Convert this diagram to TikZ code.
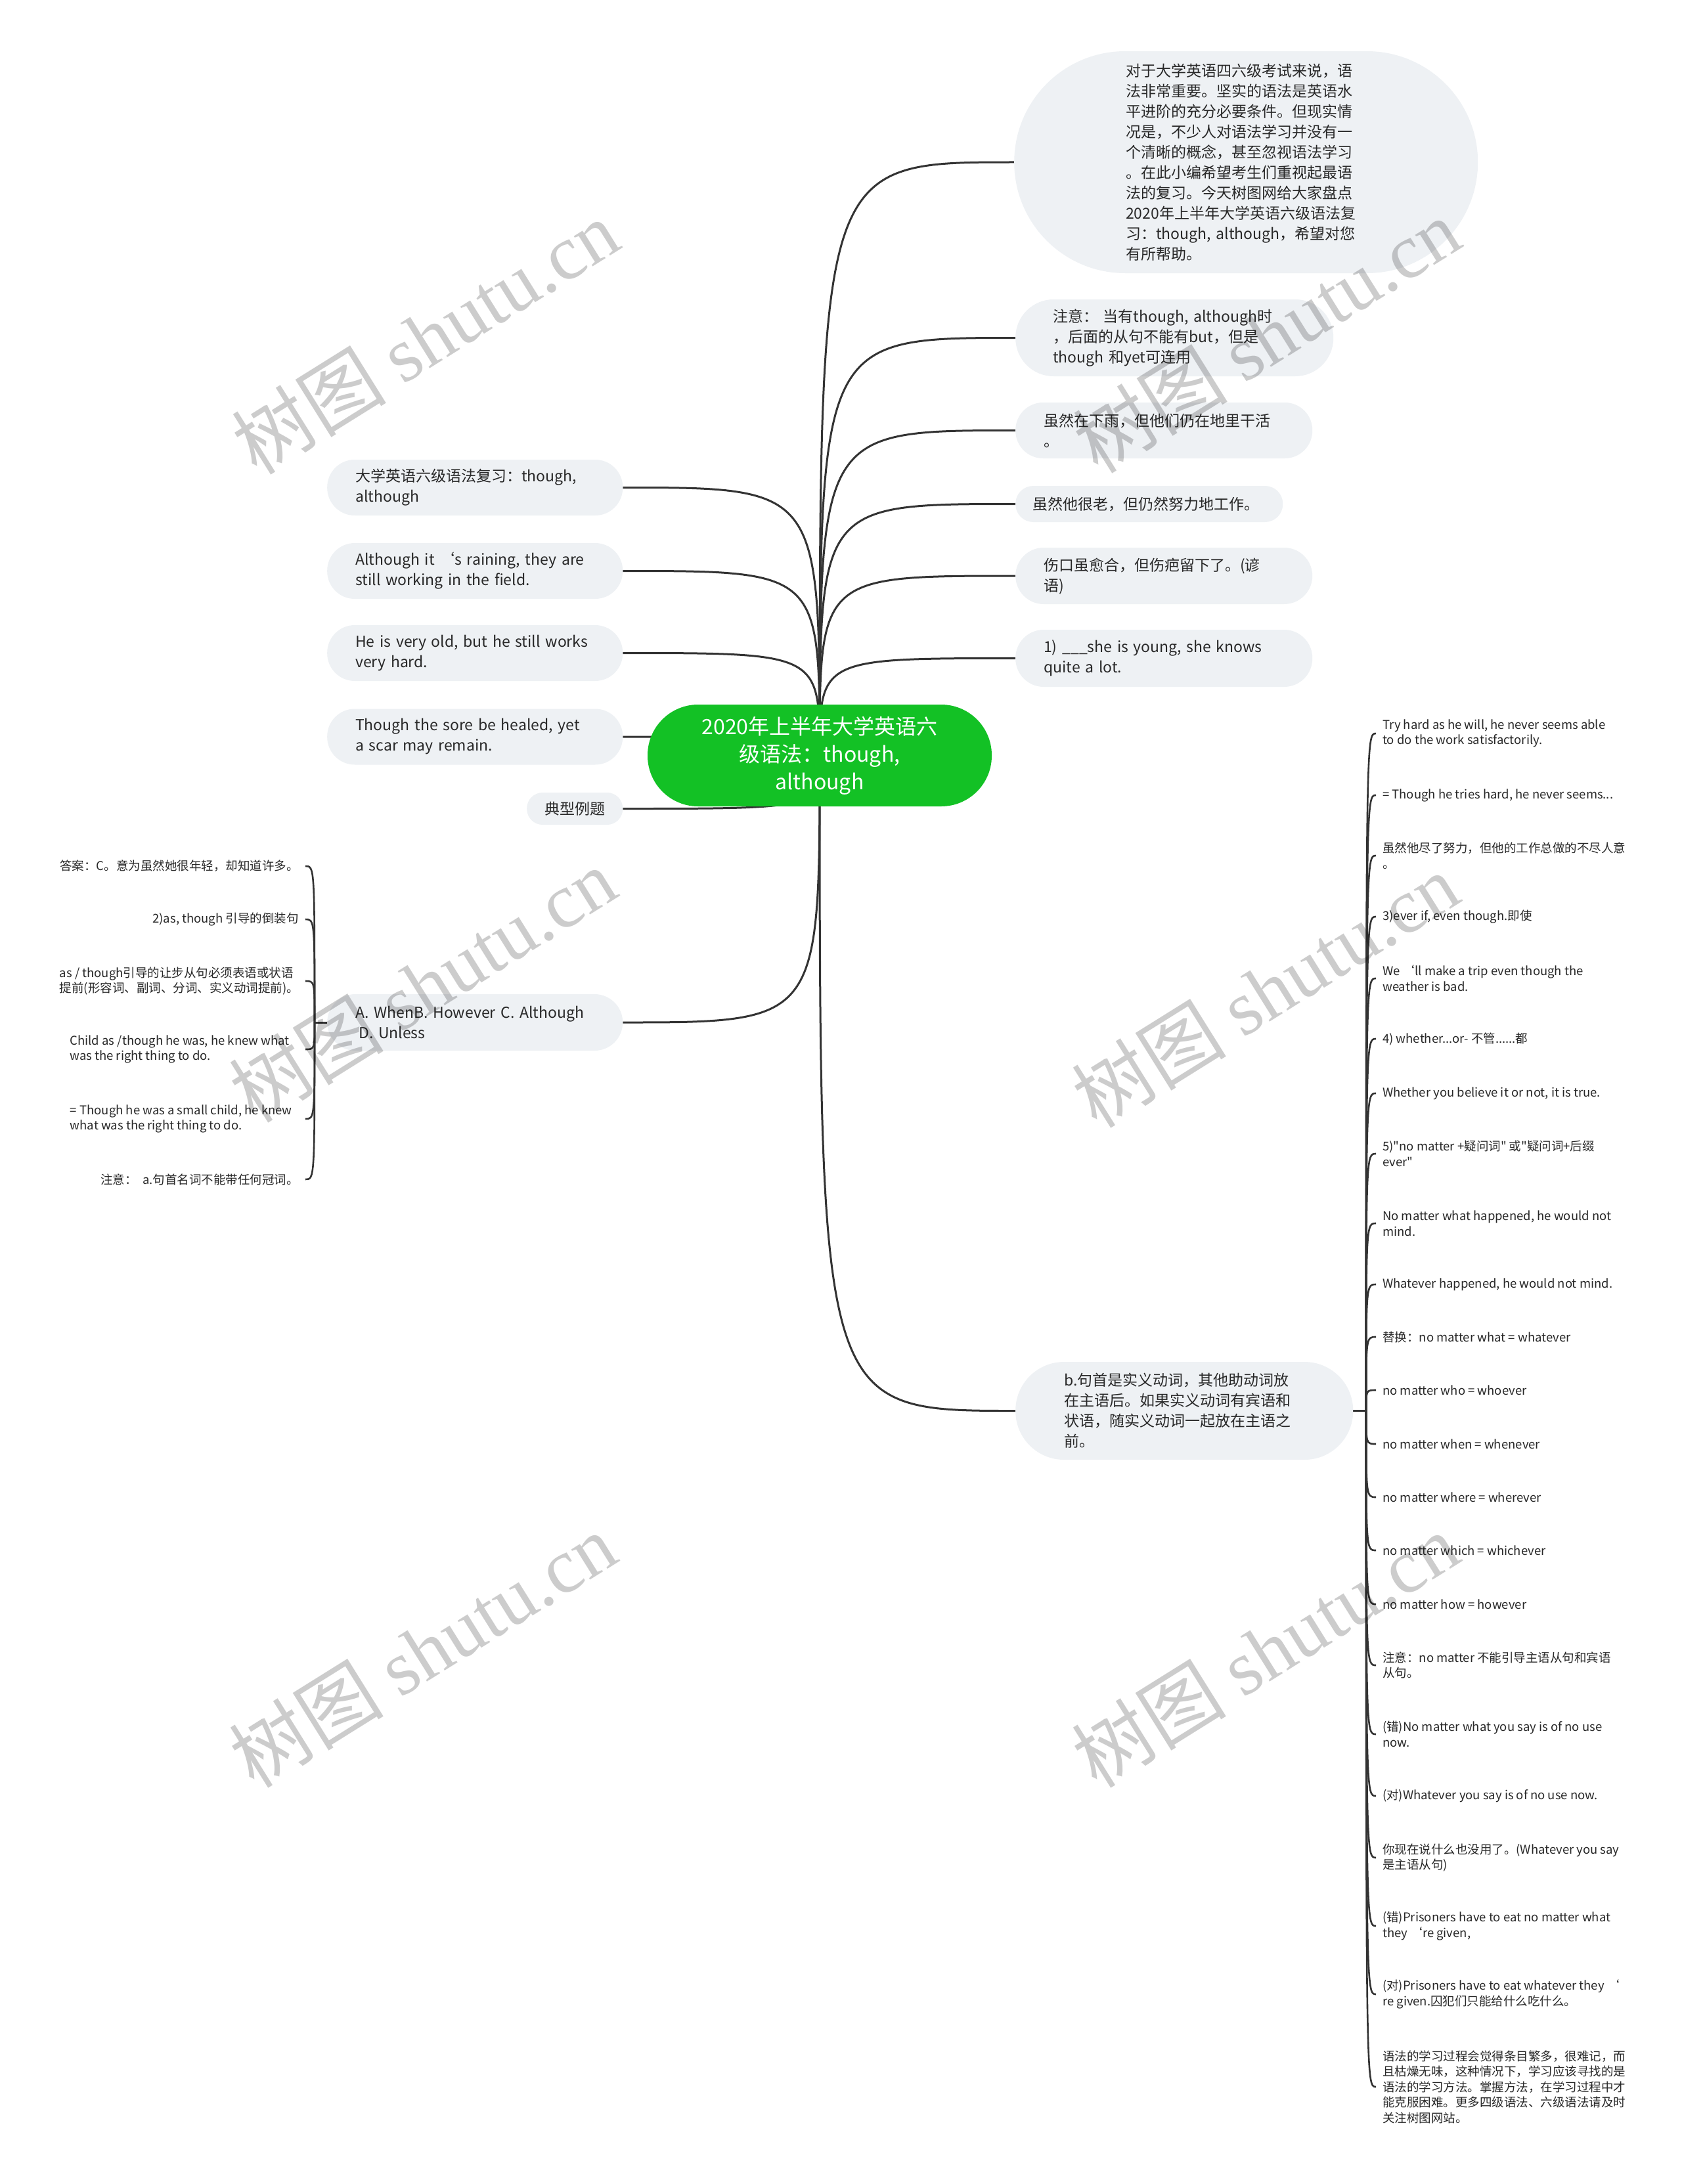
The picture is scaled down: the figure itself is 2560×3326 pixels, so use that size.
\documentclass[tikz,border=0pt]{standalone}
\usepackage{fontspec}
\setmainfont{Noto Sans CJK SC}[Ligatures=TeXOff]
\newfontfamily\wmcjk{Noto Sans CJK SC}
\newfontfamily\wmlat{Liberation Serif}
\usetikzlibrary{backgrounds}
\definecolor{nodefill}{RGB}{238,241,244}
\definecolor{centergreen}{RGB}{19,193,37}
\definecolor{linecol}{RGB}{51,51,51}
\definecolor{txtcol}{RGB}{40,40,40}
\begin{document}
\begin{tikzpicture}[x=1pt,y=-1pt,
  conn/.style={draw=linecol, line width=3pt},
  leafline/.style={draw=linecol, line width=2.6pt},
  topic/.style={fill=nodefill, text=txtcol, align=left, anchor=west,
    font=\fontsize{23}{31}\selectfont, inner ysep=0pt},
  leaf/.style={text=txtcol, align=left, font=\fontsize{18.5}{23.5}\selectfont,
    inner ysep=0pt, inner xsep=10pt},
  wm/.style={rotate=32, text=black, text opacity=0.2, font=\fontsize{118}{130}\selectfont}
]
\useasboundingbox (0,0) rectangle (2560,3326);

% central topic
\node[fill=centergreen, text=white, align=center, minimum width=524, minimum height=155,
  rounded corners=77, font=\fontsize{32}{42}\selectfont, inner sep=0pt] (c) at (1248,1150.5)
  {2020年上半年大学英语六\\级语法：though,\\although};

% right topics
\node[topic, text width=366, inner xsep=170, minimum height=338, rounded corners=169] (r1) at (1544,247)
 {对于大学英语四六级考试来说，语\\法非常重要。坚实的语法是英语水\\平进阶的充分必要条件。但现实情\\况是，不少人对语法学习并没有一\\个清晰的概念，甚至忽视语法学习\\。在此小编希望考生们重视起最语\\法的复习。今天树图网给大家盘点\\2020年上半年大学英语六级语法复\\习：though, although，希望对您\\有所帮助。};
\node[topic, text width=370, inner xsep=57, minimum height=117, rounded corners=58] (r2) at (1546,514.5)
 {注意： 当有though, although时\\，后面的从句不能有but，但是\\though 和yet可连用};
\node[topic, text width=366, inner xsep=43, minimum height=85, rounded corners=42] (r3) at (1546,655.5)
 {虽然在下雨，但他们仍在地里干活\\。};
\node[topic, text width=355, inner xsep=26, minimum height=55, rounded corners=27] (r4) at (1546,767.5)
 {虽然他很老，但仍然努力地工作。};
\node[topic, text width=366, inner xsep=43, minimum height=86, rounded corners=43] (r5) at (1546,877)
 {伤口虽愈合，但伤疤留下了。(谚\\语)};
\node[topic, text width=366, inner xsep=43, minimum height=87, rounded corners=43] (r6) at (1546,1002.5)
 {1) \_\_\_she is young, she knows\\quite a lot.};
\node[topic, text width=366, inner xsep=74, minimum height=149, rounded corners=74] (r7) at (1546,2148.5)
 {b.句首是实义动词，其他助动词放\\在主语后。如果实义动词有宾语和\\状语，随实义动词一起放在主语之\\前。};

% left topics
\node[topic, text width=364, inner xsep=43, minimum height=85, rounded corners=42] (l1) at (498,742.5)
 {大学英语六级语法复习：though,\\although};
\node[topic, text width=364, inner xsep=43, minimum height=85, rounded corners=42] (l2) at (498,869.5)
 {Although it ‘s raining, they are\\still working in the field.};
\node[topic, text width=364, inner xsep=43, minimum height=85, rounded corners=42] (l3) at (498,994.5)
 {He is very old, but he still works\\very hard.};
\node[topic, text width=364, inner xsep=43, minimum height=85, rounded corners=42] (l4) at (498,1122)
 {Though the sore be healed, yet\\a scar may remain.};
\node[topic, align=center, text width=96, inner xsep=25, minimum height=49, rounded corners=24] (l5) at (802,1231.5)
 {典型例题};
\node[topic, text width=364, inner xsep=43, minimum height=86, rounded corners=43] (l6) at (498,1557)
 {A. WhenB. However C. Although\\\hspace{5pt}D. Unless};

% left leaves
\node[leaf, anchor=east] (p1) at (465,1319) {答案：C。意为虽然她很年轻，却知道许多。};
\node[leaf, anchor=east] (p2) at (465,1400) {2)as, though 引导的倒装句};
\node[leaf, anchor=east] (p3) at (465,1494) {as / though引导的让步从句必须表语或状语\\提前(形容词、副词、分词、实义动词提前)。};
\node[leaf, anchor=east, inner xsep=24pt] (p4) at (465,1598) {Child as /though he was, he knew what\\was the right thing to do.};
\node[leaf, anchor=east, inner xsep=20pt] (p5) at (465,1704) {= Though he was a small child, he knew\\what was the right thing to do.};
\node[leaf, anchor=east] (p6) at (465,1796) {注意：\ \ a.句首名词不能带任何冠词。};

% right leaves
\node[leaf, anchor=west] (q1) at (2095,1117) {Try hard as he will, he never seems able\\to do the work satisfactorily.};
\node[leaf, anchor=west] (q2) at (2095,1211) {= Though he tries hard, he never seems...};
\node[leaf, anchor=west] (q3) at (2095,1303) {虽然他尽了努力，但他的工作总做的不尽人意\\。};
\node[leaf, anchor=west] (q4) at (2095,1396) {3)ever if, even though.即使};
\node[leaf, anchor=west] (q5) at (2095,1490) {We ‘ll make a trip even though the\\weather is bad.};
\node[leaf, anchor=west] (q6) at (2095,1582) {4) whether...or- 不管......都};
\node[leaf, anchor=west] (q7) at (2095,1665) {Whether you believe it or not, it is true.};
\node[leaf, anchor=west] (q8) at (2095,1757) {5)"no matter +疑问词" 或"疑问词+后缀\\ever"};
\node[leaf, anchor=west] (q9) at (2095,1863) {No matter what happened, he would not\\mind.};
\node[leaf, anchor=west] (q10) at (2095,1956) {Whatever happened, he would not mind.};
\node[leaf, anchor=west] (q11) at (2095,2036) {替换：no matter what = whatever};
\node[leaf, anchor=west] (q12) at (2095,2117) {no matter who = whoever};
\node[leaf, anchor=west] (q13) at (2095,2199) {no matter when = whenever};
\node[leaf, anchor=west] (q14) at (2095,2280) {no matter where = wherever};
\node[leaf, anchor=west] (q15) at (2095,2361) {no matter which = whichever};
\node[leaf, anchor=west] (q16) at (2095,2443) {no matter how = however};
\node[leaf, anchor=west] (q17) at (2095,2536) {注意：no matter 不能引导主语从句和宾语\\从句。};
\node[leaf, anchor=west] (q18) at (2095,2641) {(错)No matter what you say is of no use\\now.};
\node[leaf, anchor=west] (q19) at (2095,2735) {(对)Whatever you say is of no use now.};
\node[leaf, anchor=west] (q20) at (2095,2829) {你现在说什么也没用了。(Whatever you say\\是主语从句)};
\node[leaf, anchor=west] (q21) at (2095,2933) {(错)Prisoners have to eat no matter what\\they ‘re given,};
\node[leaf, anchor=west] (q22) at (2095,3037) {(对)Prisoners have to eat whatever they ‘\\re given.囚犯们只能给什么吃什么。};
\node[leaf, anchor=west] (q23) at (2095,3178) {语法的学习过程会觉得条目繁多，很难记，而\\且枯燥无味，这种情况下，学习应该寻找的是\\语法的学习方法。掌握方法，在学习过程中才\\能克服困难。更多四级语法、六级语法请及时\\关注树图网站。};

\coordinate (JL) at (479,1557);
\coordinate (JR) at (2080,2148.5);

\begin{pgfonlayer}{background}
  \fill[white] (0,0) rectangle (2560,3326);
  \foreach \i in {1,...,7}
    \draw[conn] (c.center) .. controls (c.center |- r\i.west) .. (r\i.west);
  \foreach \i in {1,...,6}
    \draw[conn] (c.center) .. controls (c.center |- l\i.east) .. (l\i.east);
  \draw[conn] (l6.west) -- (JL);
  \foreach \i in {1,...,6}
    \draw[leafline] (JL) .. controls (JL |- p\i.east) .. (p\i.east);
  \draw[conn] (r7.east) -- (JR);
  \foreach \i in {1,...,23}
    \draw[leafline] (JR) .. controls (JR |- q\i.west) .. (q\i.west);
\end{pgfonlayer}

% watermarks
\node[wm] (w1) at (647,513) {{\wmcjk 树图} {\wmlat shutu.cn}};
\node[wm] (w2) at (1928,511) {{\wmcjk 树图} {\wmlat shutu.cn}};
\node[wm] (w3) at (643,1500) {{\wmcjk 树图} {\wmlat shutu.cn}};
\node[wm] (w4) at (1926,1508) {{\wmcjk 树图} {\wmlat shutu.cn}};
\node[wm] (w5) at (643,2513) {{\wmcjk 树图} {\wmlat shutu.cn}};
\node[wm] (w6) at (1926,2513) {{\wmcjk 树图} {\wmlat shutu.cn}};
\end{tikzpicture}
\end{document}
